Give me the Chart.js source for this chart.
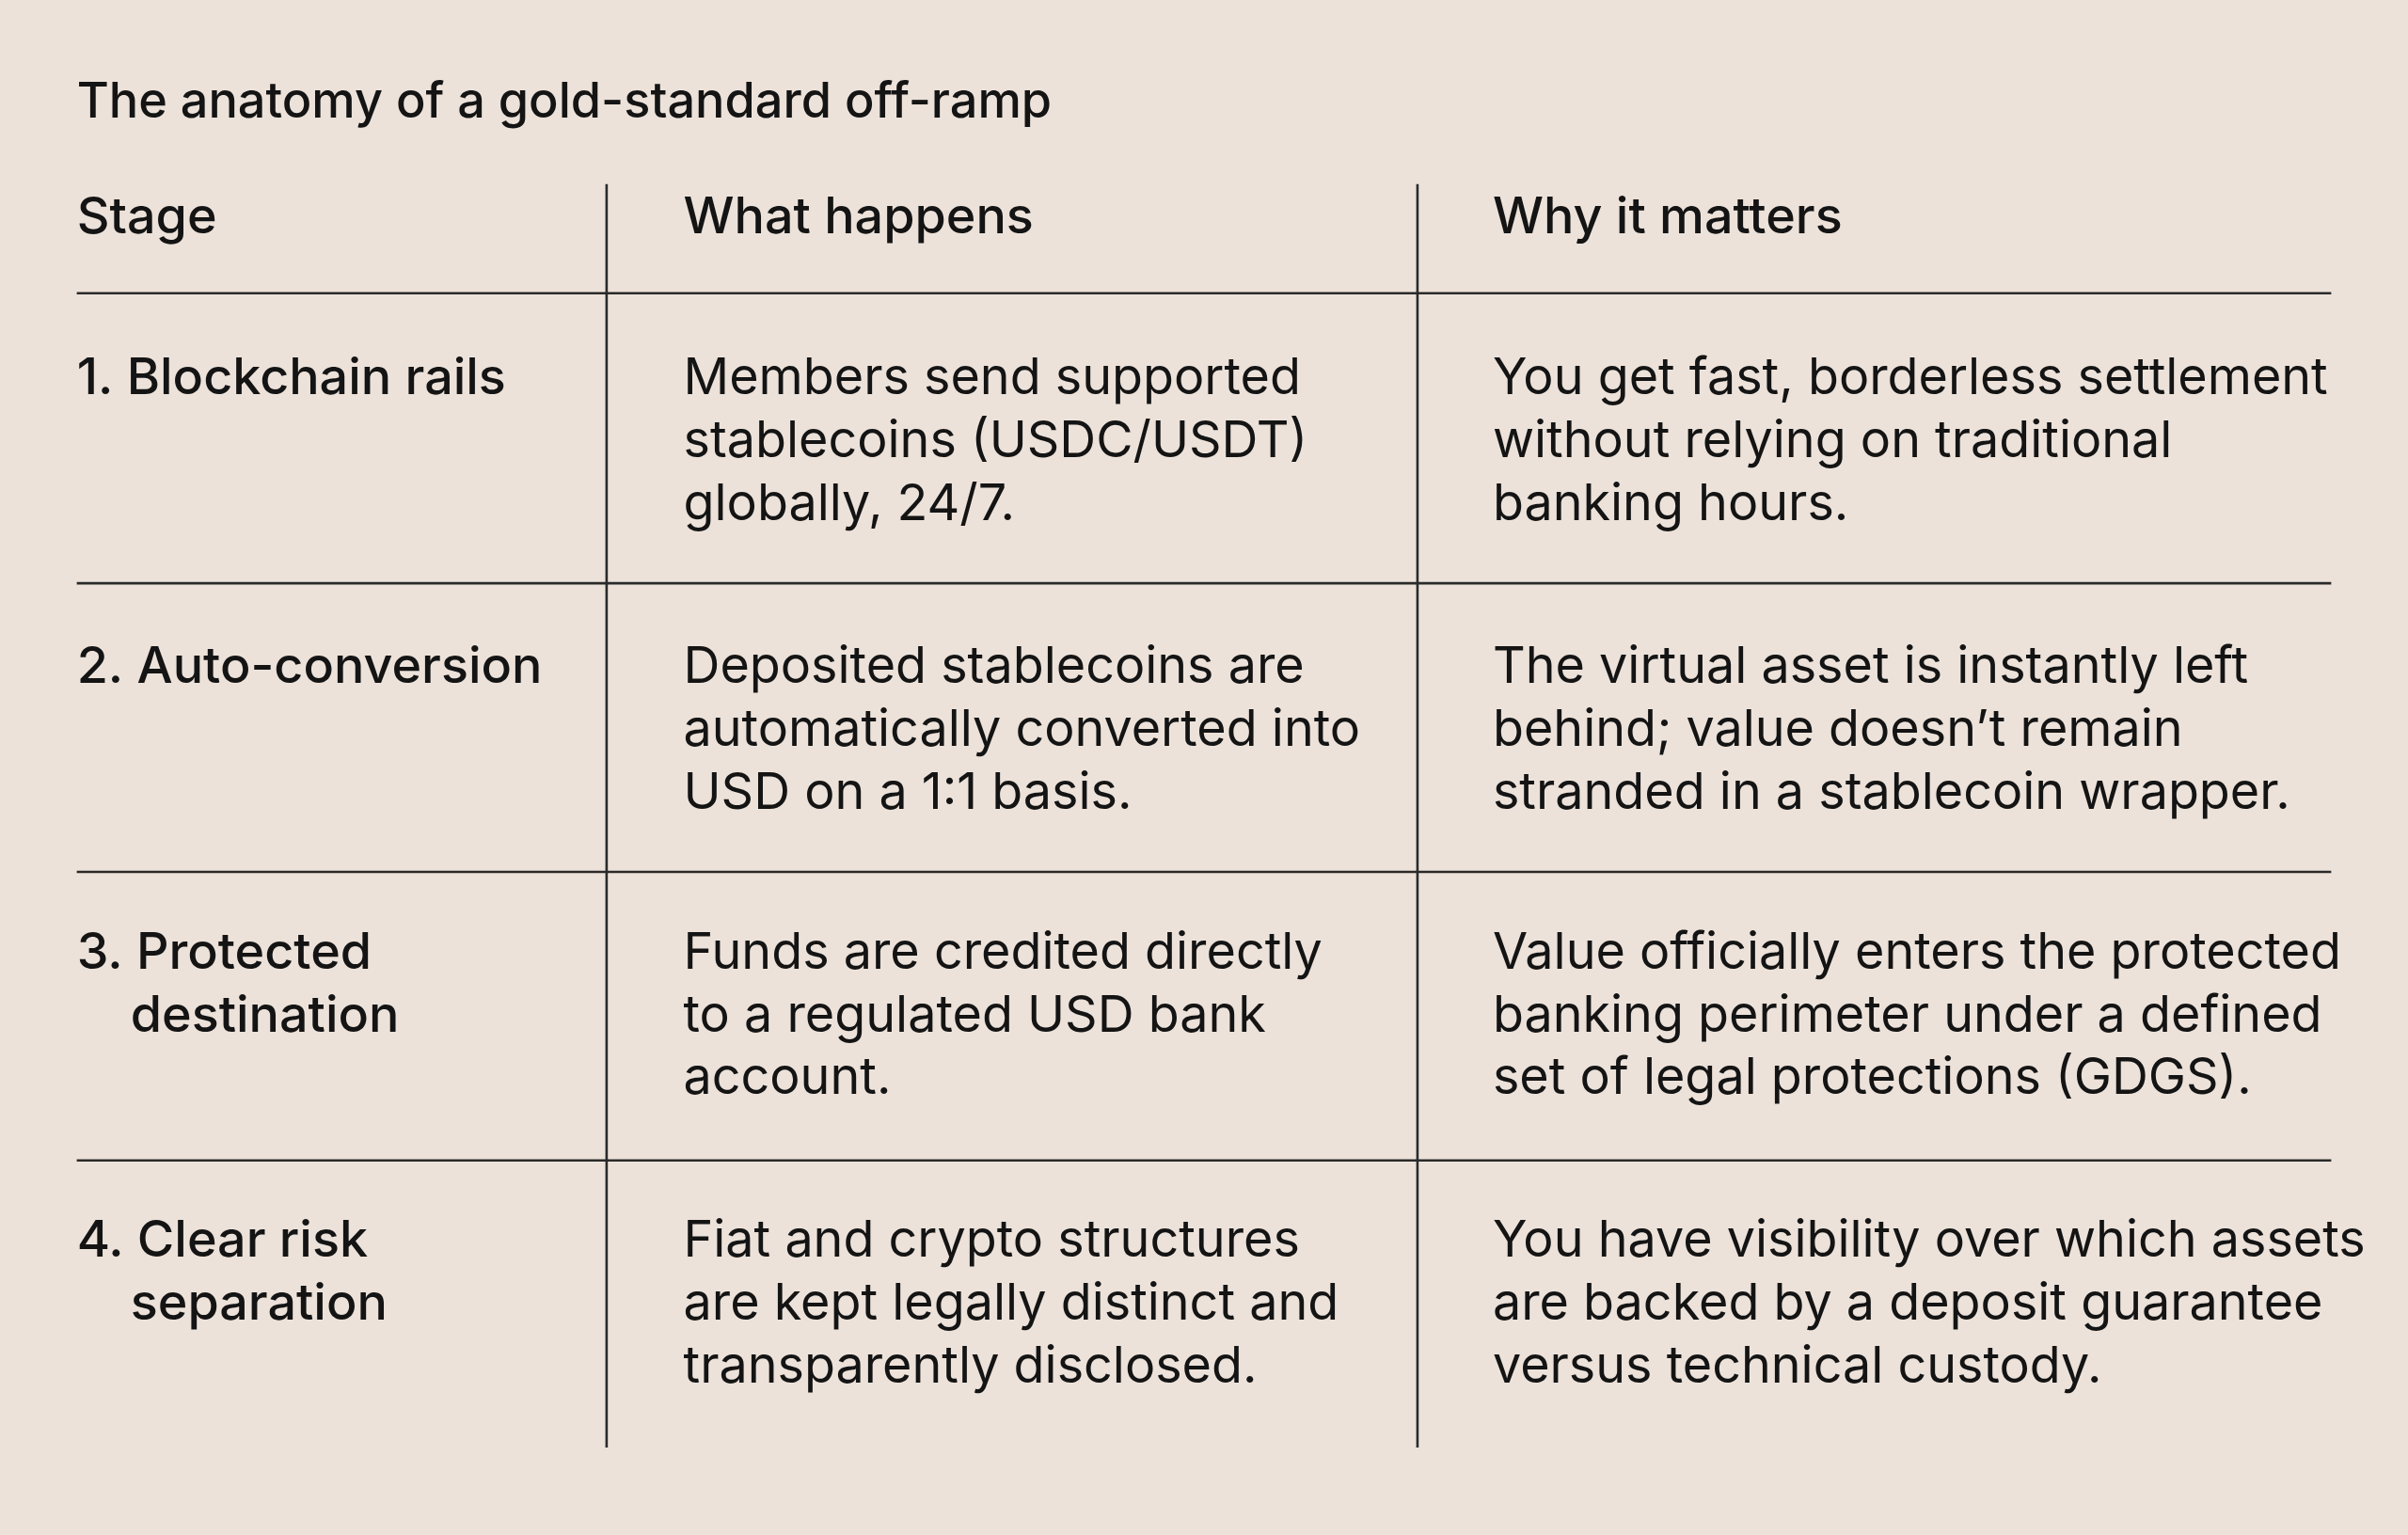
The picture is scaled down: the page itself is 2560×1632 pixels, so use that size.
<!DOCTYPE html>
<html><head><meta charset="utf-8">
<script src="https://cdn.jsdelivr.net/npm/chart.js@4"></script>
<style>html,body{margin:0;padding:0;background:#ece2da;}canvas{display:block;}</style>
</head><body>
<canvas id="c" width="2560" height="1632"></canvas>
<script>
const title = "The anatomy of a gold-standard off-ramp";
const headers = ["Stage", "What happens", "Why it matters"];
const stages = [["1. Blockchain rails"], ["2. Auto-conversion"], ["3. Protected", "destination"], ["4. Clear risk", "separation"]];
const whatHappens = [
  ["Members send supported", "stablecoins (USDC/USDT)", "globally, 24/7."],
  ["Deposited stablecoins are", "automatically converted into", "USD on a 1:1 basis."],
  ["Funds are credited directly", "to a regulated USD bank", "account."],
  ["Fiat and crypto structures", "are kept legally distinct and", "transparently disclosed."]
];
const whyItMatters = [
  ["You get fast, borderless settlement", "without relying on traditional", "banking hours."],
  ["The virtual asset is instantly left", "behind; value doesn\u2019t remain", "stranded in a stablecoin wrapper."],
  ["Value officially enters the protected", "banking perimeter under a defined", "set of legal protections (GDGS)."],
  ["You have visibility over which assets", "are backed by a deposit guarantee", "versus technical custody."]
];

const K = 2560/1568;
const tablePlugin = {
  id: 'table',
  beforeDraw(chart){
    const ctx = chart.ctx;
    ctx.save(); ctx.fillStyle = '#ece2da'; ctx.fillRect(0,0,chart.width,chart.height); ctx.restore();
  },
  afterDraw(chart){
    const ctx = chart.ctx, X = v=>chart.scales.x.getPixelForValue(v), Y = v=>chart.scales.y.getPixelForValue(v);
    ctx.save();
    ctx.fillStyle = '#141414';
    ctx.textBaseline = 'middle';
    ctx.font = '500 ' + (32*K) + 'px Inter';
    ctx.fillText(title, X(50), Y(67));
    ctx.font = '500 ' + (33*K) + 'px Inter';
    const colX = [50, 445, 972];
    headers.forEach((h,i)=>ctx.fillText(h, X(colX[i]), Y(142)));
    ctx.strokeStyle = '#2a2a2a'; ctx.lineWidth = 1.6*K;
    [191, 380, 568, 756].forEach(y=>{ctx.beginPath(); ctx.moveTo(X(50),Y(y)); ctx.lineTo(X(1518),Y(y)); ctx.stroke();});
    [395, 923].forEach(x=>{ctx.beginPath(); ctx.moveTo(X(x),Y(120)); ctx.lineTo(X(x),Y(943)); ctx.stroke();});
    ctx.font = '400 ' + (33*K) + 'px Inter';
    const rowY = [247, 435, 621, 809], lh = 41;
    rowY.forEach((y0,r)=>{
      ctx.font = '500 ' + (33*K) + 'px Inter';
      stages[r].forEach((t,j)=>ctx.fillText(t, X(j===0?50:85), Y(y0+j*lh)));
      ctx.font = '400 ' + (33*K) + 'px Inter';
      whatHappens[r].forEach((t,j)=>ctx.fillText(t, X(445), Y(y0+j*lh)));
      whyItMatters[r].forEach((t,j)=>ctx.fillText(t, X(972), Y(y0+j*lh)));
    });
    ctx.restore();
  }
};
new Chart(document.getElementById('c'), {
  type: 'scatter',
  data: { datasets: [{ data: [] }] },
  options: {
    responsive: false, animation: false, devicePixelRatio: 1,
    layout: { padding: 0 },
    plugins: { legend: {display:false}, tooltip: {enabled:false} },
    scales: {
      x: { type:'linear', min:0, max:1568, display:false },
      y: { type:'linear', min:0, max:1000, reverse:true, display:false }
    }
  },
  plugins: [tablePlugin]
});
</script>
</body></html>
